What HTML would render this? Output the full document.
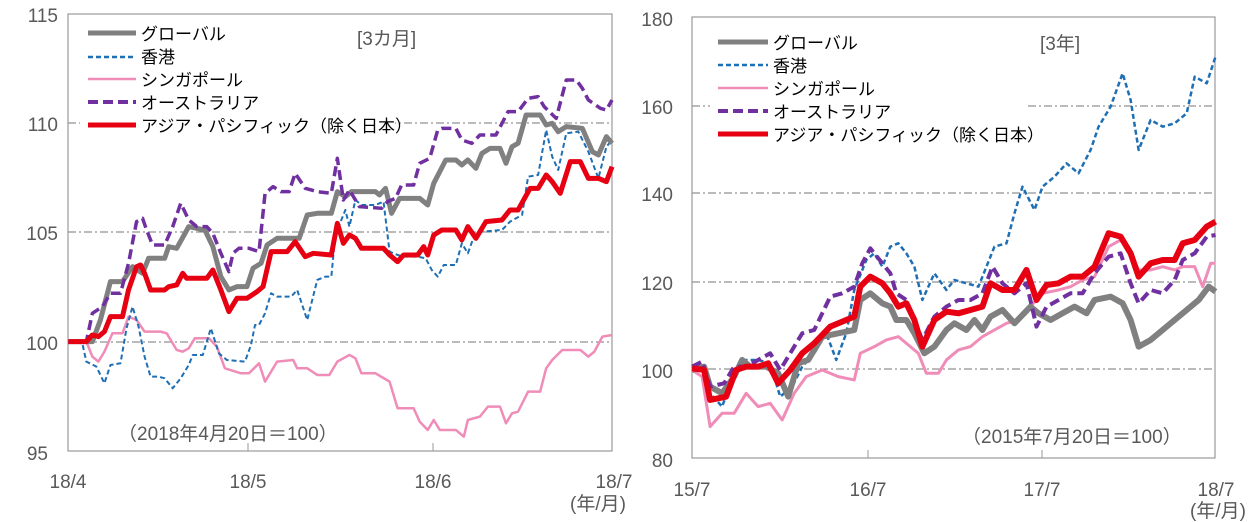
<!DOCTYPE html>
<html><head><meta charset="utf-8"><style>
html,body{margin:0;padding:0;background:#fff}
svg{display:block;font-family:"Liberation Sans","Noto Sans CJK JP",sans-serif}
.t{fill:#595959;font-size:19px}
.l{fill:#000;font-size:17px}
.s{fill:none;vector-effect:non-scaling-stroke;stroke-linejoin:round}
</style></head><body>
<svg width="1258" height="522" viewBox="0 0 1258 522">
<!-- LEFT CHART -->
<g stroke="#777" stroke-width="1" stroke-dasharray="8,3,2,3">
<line x1="68" y1="123" x2="612" y2="123"/><line x1="68" y1="232" x2="612" y2="232"/><line x1="68" y1="342" x2="612" y2="342"/>
</g>
<rect x="68" y="14" width="544" height="437" fill="none" stroke="#999" stroke-width="1.2"/>
<g stroke="#999"><line x1="248" y1="451" x2="248" y2="443"/><line x1="433" y1="451" x2="433" y2="443"/></g>
<g class="t" text-anchor="end"><text x="58" y="22">115</text><text x="58" y="131">110</text><text x="58" y="240">105</text><text x="58" y="350">100</text><text x="48" y="460">95</text></g>
<g class="t" text-anchor="middle"><text x="68" y="488">18/4</text><text x="248" y="488">18/5</text><text x="433" y="488">18/6</text><text x="614" y="488">18/7</text><text x="598" y="510">(年/月)</text></g>
<g transform="scale(0.4016,0.3333)">
<polyline class="s" stroke="#f08cb8" stroke-width="2.5" points="170,1025 215,1025 230,1070 245,1085 260,1055 280,1000 305,1000 320,950 340,960 360,995 400,995 415,1000 440,1050 455,1055 470,1045 485,1015 520,1015 540,1040 560,1105 600,1120 620,1120 645,1090 660,1145 690,1085 730,1080 740,1105 765,1105 790,1125 820,1125 840,1085 870,1065 885,1075 900,1120 935,1120 970,1145 990,1225 1030,1225 1045,1265 1065,1290 1080,1260 1095,1290 1135,1290 1155,1310 1165,1260 1195,1250 1215,1220 1245,1220 1260,1270 1275,1240 1290,1235 1315,1175 1345,1175 1360,1105 1375,1080 1400,1050 1445,1050 1465,1070 1480,1055 1500,1010 1524,1005"/>
<polyline class="s" stroke="#1f6fb4" stroke-width="2" stroke-dasharray="5,3" points="170,1025 205,1030 215,1085 240,1100 260,1150 275,1095 300,1090 315,985 330,920 345,980 360,1070 375,1130 395,1130 410,1135 430,1165 450,1135 470,1095 480,1065 505,1065 525,985 545,1060 565,1080 610,1085 625,1035 635,975 645,975 660,940 675,880 690,890 725,890 740,870 765,960 790,840 810,830 825,830 835,705 860,630 870,680 885,600 900,615 935,615 955,605 970,755 990,765 1005,770 1040,770 1060,775 1075,810 1090,830 1105,795 1135,795 1150,730 1165,760 1180,710 1200,695 1250,690 1270,665 1300,645 1315,530 1340,525 1360,390 1375,470 1390,510 1410,400 1440,395 1465,455 1490,535 1510,440 1524,420"/>
<polyline class="s" stroke="#808080" stroke-width="5" points="170,1025 230,1025 250,960 275,845 305,845 330,800 355,820 370,775 410,775 420,740 440,745 470,680 510,690 530,740 550,830 570,870 590,860 615,860 630,805 650,790 665,735 690,715 745,715 765,645 790,640 825,640 840,575 860,590 875,575 935,575 945,585 960,565 975,640 995,595 1045,595 1065,615 1080,550 1110,480 1135,480 1150,495 1165,480 1185,505 1200,460 1220,445 1245,445 1260,490 1275,440 1290,430 1310,345 1345,345 1360,375 1375,370 1390,395 1410,380 1450,385 1475,455 1490,465 1510,410 1524,430"/>
<polyline class="s" stroke="#7030a0" stroke-width="3.5" stroke-dasharray="10,5" points="170,1025 215,1025 230,940 255,920 275,880 300,880 320,790 340,665 355,655 365,690 380,735 410,735 430,680 450,610 470,660 490,680 515,680 530,700 550,760 570,815 580,760 595,745 620,745 645,755 660,580 680,560 700,575 720,575 735,520 760,565 790,575 825,580 840,475 855,600 870,570 895,620 950,625 965,605 985,595 1000,555 1030,555 1045,490 1070,475 1090,390 1100,385 1135,385 1150,420 1175,430 1195,405 1235,405 1265,335 1290,335 1315,295 1340,290 1355,320 1385,355 1410,240 1435,240 1450,265 1465,300 1495,325 1510,330 1524,300"/>
<polyline class="s" stroke="#e60012" stroke-width="5" points="170,1025 215,1025 230,1005 245,1010 260,995 275,950 305,950 320,870 340,800 350,795 360,820 375,870 410,870 420,860 440,855 455,820 465,835 515,835 530,810 550,870 570,935 590,895 615,895 640,875 655,860 675,755 715,755 735,725 760,770 780,760 825,765 840,670 855,730 870,705 885,715 900,745 955,745 970,765 990,785 1005,765 1040,765 1055,740 1065,765 1080,705 1100,690 1135,690 1150,720 1165,680 1185,715 1210,665 1250,660 1270,630 1290,630 1320,565 1340,565 1360,525 1375,545 1395,580 1420,485 1445,485 1465,535 1490,535 1510,545 1524,500"/>
</g>
<rect x="80" y="20" width="315" height="116" fill="#fff"/>
<g>
<line x1="88" y1="33" x2="136" y2="33" stroke="#808080" stroke-width="5"/>
<line x1="88" y1="57" x2="136" y2="57" stroke="#1f6fb4" stroke-width="2.5" stroke-dasharray="5,3"/>
<line x1="88" y1="79" x2="136" y2="79" stroke="#f08cb8" stroke-width="2.5"/>
<line x1="88" y1="102" x2="136" y2="102" stroke="#7030a0" stroke-width="4" stroke-dasharray="10,5"/>
<line x1="88" y1="125" x2="136" y2="125" stroke="#e60012" stroke-width="5"/>
</g>
<g class="l"><text x="141" y="40">グローバル</text><text x="141" y="63">香港</text><text x="141" y="86">シンガポール</text><text x="141" y="109">オーストラリア</text><text x="141" y="132">アジア・パシフィック（除く日本）</text></g>
<text x="357" y="45" class="t">[3カ月]</text>
<text x="118" y="440" class="t">（2018年4月20日＝100）</text>

<!-- RIGHT CHART -->
<g stroke="#777" stroke-width="1" stroke-dasharray="8,3,2,3">
<line x1="692" y1="106" x2="1215" y2="106"/><line x1="692" y1="193" x2="1215" y2="193"/><line x1="692" y1="282" x2="1215" y2="282"/><line x1="692" y1="369" x2="1215" y2="369"/>
</g>
<rect x="692" y="17" width="523" height="441" fill="none" stroke="#999" stroke-width="1.2"/>
<g stroke="#999"><line x1="868" y1="458" x2="868" y2="450"/><line x1="1042" y1="458" x2="1042" y2="450"/></g>
<g class="t" text-anchor="end"><text x="673" y="26">180</text><text x="673" y="114">160</text><text x="673" y="201">140</text><text x="673" y="290">120</text><text x="673" y="378">100</text><text x="673" y="467">80</text></g>
<g class="t" text-anchor="middle"><text x="692" y="496">15/7</text><text x="868" y="496">16/7</text><text x="1042" y="496">17/7</text><text x="1216" y="496">18/7</text><text x="1218" y="517">(年/月)</text></g>
<g transform="translate(630,0) scale(0.4005,0.3333)">
<polyline class="s" stroke="#1f6fb4" stroke-width="2.5" stroke-dasharray="5,3" points="155,1105 185,1110 200,1180 230,1220 260,1120 290,1080 320,1080 350,1090 375,1190 405,1160 430,1100 460,1060 490,1000 515,1080 540,1000 560,870 590,780 610,760 630,800 650,740 670,730 690,760 710,800 730,900 760,820 790,870 810,840 840,850 870,860 890,800 910,740 940,730 960,640 980,560 1010,630 1030,560 1060,530 1090,490 1120,520 1150,450 1170,380 1200,320 1230,220 1250,300 1270,450 1300,360 1330,380 1360,370 1390,340 1410,230 1440,250 1462,170"/>
<polyline class="s" stroke="#f08cb8" stroke-width="3" points="155,1110 180,1130 200,1280 230,1240 260,1240 290,1180 320,1220 350,1210 380,1260 410,1180 440,1130 480,1110 520,1130 560,1140 575,1060 610,1040 640,1020 670,1010 700,1040 720,1060 740,1120 770,1120 790,1080 820,1050 850,1040 880,1010 910,990 940,970 970,960 1000,920 1030,880 1070,870 1100,860 1130,840 1160,830 1195,740 1225,720 1250,760 1270,810 1300,810 1330,800 1360,810 1380,800 1410,800 1430,860 1450,790 1462,790"/>
<polyline class="s" stroke="#808080" stroke-width="6" points="155,1110 185,1100 200,1160 230,1180 260,1130 280,1080 300,1100 340,1100 370,1120 395,1190 420,1090 445,1080 480,1010 520,1000 560,990 575,900 600,880 630,910 650,920 665,960 690,960 710,1000 735,1060 760,1040 790,990 810,970 840,990 860,960 880,990 900,950 930,930 960,970 1000,920 1020,940 1050,960 1080,940 1110,920 1140,940 1160,900 1200,890 1230,910 1250,960 1270,1040 1300,1020 1330,990 1360,960 1390,930 1420,900 1445,860 1462,875"/>
<polyline class="s" stroke="#7030a0" stroke-width="4" stroke-dasharray="10,5" points="155,1100 180,1085 200,1160 235,1150 260,1100 290,1100 320,1080 350,1060 375,1110 400,1060 430,1000 460,990 500,890 530,880 560,860 580,790 600,745 630,790 650,820 665,880 690,900 710,960 730,1020 760,950 790,920 820,900 850,900 880,880 905,800 930,850 960,880 990,850 1015,980 1040,920 1070,900 1100,880 1130,880 1160,820 1195,770 1225,760 1250,850 1270,910 1300,870 1330,880 1360,840 1380,780 1410,760 1440,710 1462,705"/>
<polyline class="s" stroke="#e60012" stroke-width="6" points="155,1105 185,1110 200,1200 240,1190 265,1110 290,1100 320,1100 345,1090 370,1150 400,1110 430,1060 460,1030 500,980 530,965 560,950 575,860 600,830 630,850 650,880 670,920 690,910 710,960 730,1040 760,960 790,935 820,940 850,930 880,920 900,850 930,870 960,870 990,810 1015,900 1040,855 1070,850 1100,830 1130,830 1160,800 1195,700 1225,710 1250,760 1270,830 1300,790 1330,780 1360,780 1380,730 1410,720 1440,680 1462,665"/>
</g>
<rect x="710" y="28" width="318" height="116" fill="#fff"/>
<g>
<line x1="718" y1="42" x2="768" y2="42" stroke="#808080" stroke-width="5"/>
<line x1="718" y1="65" x2="768" y2="65" stroke="#1f6fb4" stroke-width="2.5" stroke-dasharray="5,3"/>
<line x1="718" y1="88" x2="768" y2="88" stroke="#f08cb8" stroke-width="2.5"/>
<line x1="718" y1="111" x2="768" y2="111" stroke="#7030a0" stroke-width="4" stroke-dasharray="10,5"/>
<line x1="718" y1="134" x2="768" y2="134" stroke="#e60012" stroke-width="5"/>
</g>
<g class="l"><text x="773" y="49">グローバル</text><text x="773" y="72">香港</text><text x="773" y="95">シンガポール</text><text x="773" y="118">オーストラリア</text><text x="773" y="141">アジア・パシフィック（除く日本）</text></g>
<text x="1040" y="50" class="t">[3年]</text>
<text x="962" y="443" class="t">（2015年7月20日＝100）</text>
</svg>
</body></html>
